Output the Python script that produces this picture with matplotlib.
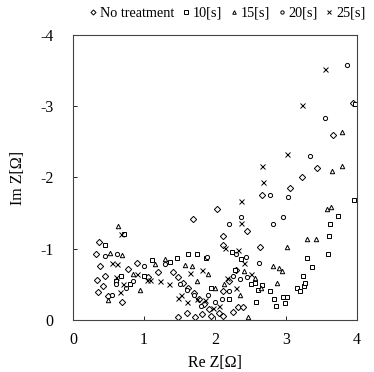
import matplotlib
matplotlib.use("Agg")
import matplotlib.pyplot as plt

plt.rcParams['font.family'] = ['Liberation Serif', 'DejaVu Serif']
plt.rcParams['axes.unicode_minus'] = False
plt.rcParams['mathtext.fontset'] = 'stix'

# ---- data (Re Z, Im Z) in ohms ----
no_re = [0.37, 0.32, 0.38, 0.34, 0.35, 0.42, 0.45, 0.50, 0.69, 0.78, 0.90, 1.05, 1.20, 1.41,
         1.48, 1.55, 1.62, 1.70, 1.78, 1.85, 1.92, 1.48, 1.60, 1.72, 1.82, 1.95, 2.05, 2.25,
         2.33, 2.40, 2.11, 2.11, 2.20, 2.30, 2.11, 2.11, 1.69, 2.03, 2.45, 2.63, 2.66, 3.06,
         3.23, 3.44, 3.66, 3.94]
no_im = [-1.09, -0.93, -0.76, -0.56, -0.39, -0.48, -0.62, -0.33, -0.25, -0.72, -0.80, -0.60,
         -0.67, -0.67, -0.60, -0.52, -0.45, -0.38, -0.30, -0.22, -0.15, -0.04, -0.10, -0.04,
         -0.08, -0.05, -0.10, -0.11, -0.18, -0.18, -0.05, -0.40, -0.55, -0.70, -1.05, -1.18,
         -1.42, -1.56, -1.25, -1.03, -1.75, -1.85, -2.00, -2.13, -2.60, -3.05]

s10_re = [0.45, 0.72, 0.60, 0.68, 0.80, 1.11, 1.37, 1.46, 1.62, 1.75, 1.87, 1.00, 1.95, 2.24,
          2.37, 2.28, 2.56, 2.66, 2.60, 2.78, 2.58, 2.83, 2.86, 2.96, 3.01, 2.98, 3.15, 3.25,
          3.20, 3.27, 3.24, 3.37, 3.30, 3.59, 3.60, 3.62, 3.73, 3.96, 3.97, 2.20, 2.50]
s10_im = [-1.05, -1.21, -0.55, -0.62, -0.50, -0.84, -0.81, -0.87, -0.93, -0.93, -0.87, -0.62,
          -0.45, -0.95, -0.86, -0.70, -0.52, -0.49, -0.42, -0.41, -0.25, -0.30, -0.20, -0.32,
          -0.32, -0.24, -0.45, -0.47, -0.40, -0.52, -0.62, -0.74, -0.87, -0.93, -1.18, -1.35,
          -1.46, -1.68, -3.03, -0.30, -0.50]

s15_re = [0.52, 0.69, 0.63, 0.49, 0.94, 0.85, 1.15, 1.30, 1.58, 1.68, 1.75, 1.90, 2.00, 2.12,
          2.41, 2.56, 2.82, 2.90, 2.94, 2.87, 3.01, 2.46, 3.30, 3.42, 3.57, 3.63, 3.65, 3.79,
          3.79, 2.65, 2.35]
s15_im = [-0.94, -0.91, -1.32, -0.28, -0.42, -0.65, -0.78, -0.85, -0.77, -0.75, -0.55, -0.65,
          -0.45, -0.50, -0.68, -0.59, -0.76, -0.73, -0.68, -0.52, -1.03, -0.04, -1.14, -1.14,
          -1.56, -1.58, -2.09, -2.16, -2.64, -0.45, -0.35]

s20_re = [0.62, 0.45, 0.55, 0.60, 0.75, 0.85, 1.00, 1.30, 1.50, 1.60, 1.70, 1.80, 1.89, 1.90,
          2.00, 2.10, 2.20, 2.25, 2.35, 2.45, 2.62, 2.20, 2.37, 2.77, 2.82, 2.96, 3.03, 3.34,
          3.55, 3.85, 2.43, 2.30]
s20_im = [-0.93, -0.90, -0.35, -0.50, -0.45, -0.55, -0.75, -0.78, -0.50, -0.42, -0.35, -0.20,
          -0.89, -0.35, -0.25, -0.30, -0.40, -0.62, -0.58, -0.60, -0.80, -1.35, -1.44, -1.75,
          -1.35, -1.45, -1.73, -2.30, -2.83, -3.58, -0.88, -0.92]

s25_re = [0.68, 0.55, 0.62, 0.66, 0.60, 0.70, 0.90, 1.04, 1.08, 1.22, 1.35, 1.48, 1.52, 1.65,
          1.82, 1.60, 1.75, 1.86, 1.97, 2.05, 2.14, 2.32, 2.41, 2.17, 2.37, 2.37, 2.66, 2.68,
          3.01, 3.23, 3.55, 2.30, 2.50]
s25_im = [-1.21, -0.80, -0.78, -0.39, -0.60, -0.50, -0.65, -0.56, -0.56, -0.55, -0.50, -0.31,
          -0.35, -0.66, -0.70, -0.25, -0.30, -0.28, -0.17, -0.20, -1.01, -0.98, -0.80, -0.59,
          -1.36, -1.67, -2.16, -1.94, -2.33, -3.02, -3.52, -0.45, -0.65]

labels = ['No treatment', '10[s]', '15[s]', '20[s]', '25[s]']
x_ticks = [0, 1, 2, 3, 4]
y_ticks = [0, -1, -2, -3, -4]

fig = plt.figure(figsize=(3.74, 3.72), dpi=100)
ax = fig.add_axes([0.195, 0.140, 0.76, 0.766])

series = [(no_re, no_im, 'D', 3.2), (s10_re, s10_im, 's', 3.2), (s15_re, s15_im, '^', 3.2),
          (s20_re, s20_im, 'o', 3.0), (s25_re, s25_im, 'x', 3.6)]
handles = []
for (xr, yi, m, ms), lab in zip(series, labels):
    if m == 'x':
        h, = ax.plot(xr, yi, linestyle='none', marker=m, ms=ms, mec='black', mew=0.7, label=lab)
    else:
        h, = ax.plot(xr, yi, linestyle='none', marker=m, ms=ms, mfc='white', mec='black',
                     mew=0.7, label=lab)
    handles.append(h)

ax.set_xlim(0, 4)
ax.set_ylim(0, -4)
ax.set_xticks(x_ticks)
ax.set_yticks(y_ticks)
ax.set_yticklabels([str(t) for t in y_ticks])
ax.tick_params(direction='in', length=3, width=0.6, labelsize=11.5)
ax.tick_params(axis='x', pad=9)
ax.tick_params(axis='y', pad=14)
for sp in ax.spines.values():
    sp.set_linewidth(0.8)
    sp.set_color('#444444')
ax.set_xlabel('Re Z[Ω]', fontsize=11.5, labelpad=5)
ax.set_ylabel('Im Z[Ω]', fontsize=11.5, labelpad=10)

fig.legend(handles=handles, labels=labels, loc='upper center', bbox_to_anchor=(0.605, 1.005),
           ncol=5, frameon=False, fontsize=10.3, handletextpad=0.05, columnspacing=0.35,
           handlelength=0.9, markerscale=0.8, borderaxespad=0.2)

fig.savefig('out.png', dpi=100)
